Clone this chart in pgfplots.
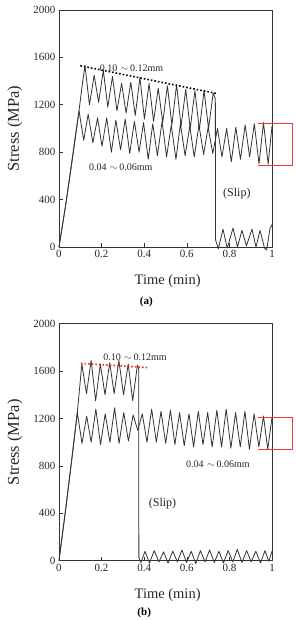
\documentclass[border=0pt]{standalone}
\usepackage{fontspec}
\setmainfont{Liberation Serif}
\usepackage{pgfplots}
\pgfplotsset{compat=1.18}

\definecolor{curvegray}{gray}{0.2}

\pgfplotsset{stressaxis/.style={
  width=213pt, height=237pt, scale only axis,
  xmin=0, xmax=1, ymin=0, ymax=2000,
  xtick={0,0.2,0.4,0.6,0.8,1},
  ytick={0,400,800,1200,1600,2000},
  tick align=inside, tick pos=left,
  major tick length=4pt,
  tick style={black!80, line width=0.6pt},
  /pgf/number format/assume math mode=true,
  /pgf/number format/1000 sep={},
  ticklabel style={font=\fontsize{11}{13}\selectfont, text=black!85},
  xlabel={Time (min)}, ylabel={Stress (MPa)},
  xlabel style={font=\fontsize{14.5}{16}\selectfont, text=black!85,
    at={(axis description cs:0.51,-0.143)}, anchor=center},
  ylabel style={font=\fontsize{16.5}{18}\selectfont, text=black!85,
    at={(axis description cs:-0.207,0.5)}, anchor=center},
  axis line style={black!80, line width=0.7pt},
  clip=false,
}}
\tikzset{
  trace/.style={curvegray, line width=0.8pt, line join=round},
  note/.style={font=\fontsize{10}{12}\selectfont, text=black!85},
}

\begin{document}
\begin{tikzpicture}
\useasboundingbox (-59pt,-373pt) rectangle (236pt,247pt);

% ---------------- (a) ----------------
\begin{axis}[stressaxis, at={(0,0)}]
% 0.10 ~ 0.12 mm: loading, oscillation, then slip
\addplot[trace, no marks] coordinates {
(0,0) (0.03,340) (0.06,720) (0.094,1150) (0.11,1380) (0.122,1530)
(0.143,1200) (0.165,1450) (0.186,1220) (0.208,1490) (0.229,1180)
(0.251,1440) (0.272,1150) (0.294,1380) (0.315,1130) (0.337,1390)
(0.358,1110) (0.380,1430) (0.401,1080) (0.423,1380) (0.444,1060)
(0.466,1340) (0.487,1050) (0.509,1360) (0.530,1030) (0.552,1370)
(0.573,1020) (0.595,1330) (0.616,1000) (0.638,1320) (0.659,990)
(0.681,1320) (0.702,1000) (0.724,1300) (0.734,1250) (0.735,60)
(0.748,-15) (0.770,150) (0.790,-10) (0.817,160) (0.838,0)
(0.859,140) (0.880,10) (0.906,150) (0.925,0) (0.944,140)
(0.965,-10) (0.975,-25) (0.990,150) (1.0,190)
};
% 0.04 ~ 0.06 mm
\addplot[trace, no marks] coordinates {
(0,0) (0.032,360) (0.062,730) (0.094,1150) (0.116,900) (0.137,1120) (0.159,880) (0.181,1090)
(0.202,850) (0.224,1090) (0.246,800) (0.267,1070) (0.289,820)
(0.311,1080) (0.332,790) (0.354,1060) (0.376,800) (0.397,1050)
(0.419,740) (0.440,1040) (0.462,770) (0.484,1060) (0.505,760)
(0.527,1030) (0.549,740) (0.570,1040) (0.592,770) (0.614,1020)
(0.635,760) (0.657,1030) (0.679,780) (0.700,1010) (0.722,790)
(0.744,1000) (0.765,760) (0.787,1000) (0.809,720) (0.830,1010)
(0.852,740) (0.874,1030) (0.895,760) (0.917,1040) (0.939,700)
(0.960,1050) (0.982,700) (1.0,1020)
};
% envelope of the peaks
\addplot[black, line width=1.6pt, dotted, no marks] coordinates {(0.10,1530) (0.74,1295)};
% amplitude bracket
\addplot[red!80, line width=0.7pt, no marks] coordinates {(0.934,1046) (1.094,1046) (1.094,692) (0.934,692)};
\node[note] at (axis cs:0.34,1505) {0.10\,\,$\sim$\,0.12mm};
\node[note] at (axis cs:0.29,675) {0.04\,\,$\sim$\,0.06mm};
\node[note, font=\fontsize{12}{14}\selectfont] at (axis cs:0.835,447) {(Slip)};
\node[font=\bfseries\fontsize{11}{13}\selectfont] at (axis description cs:0.41,-0.232) {(a)};
\end{axis}

% ---------------- (b) ----------------
\begin{axis}[stressaxis, at={(0,-313.7pt)}]
% 0.10 ~ 0.12 mm: loading, oscillation, then slip
\addplot[trace, no marks] coordinates {
(0,0) (0.03,420) (0.06,860) (0.086,1250) (0.10,1520) (0.107,1660)
(0.129,1410) (0.151,1690) (0.172,1350) (0.194,1660) (0.216,1400)
(0.238,1670) (0.259,1410) (0.281,1690) (0.303,1400) (0.325,1660)
(0.346,1350) (0.368,1650) (0.374,1620) (0.375,30)
(0.385,-15) (0.404,80) (0.425,-20) (0.447,85) (0.469,-10)
(0.491,75) (0.512,-20) (0.534,80) (0.556,-10) (0.577,90)
(0.599,-15) (0.621,80) (0.642,-25) (0.664,85) (0.686,-10)
(0.707,90) (0.729,-15) (0.751,80) (0.772,-20) (0.794,85)
(0.816,-10) (0.837,95) (0.859,-15) (0.881,85) (0.902,-10)
(0.924,80) (0.946,-20) (0.967,85) (0.985,-5) (1.0,80)
};
% 0.04 ~ 0.06 mm
\addplot[trace, no marks] coordinates {
(0,0) (0.032,440) (0.062,880) (0.086,1250) (0.108,990) (0.130,1220) (0.151,1000) (0.173,1280)
(0.195,980) (0.217,1240) (0.239,1000) (0.261,1290) (0.282,990)
(0.304,1250) (0.326,1010) (0.348,1230) (0.370,1100) (0.391,1240)
(0.413,1000) (0.435,1280) (0.457,1000) (0.479,1260) (0.501,990)
(0.523,1270) (0.544,980) (0.566,1250) (0.588,970) (0.610,1240)
(0.632,960) (0.654,1260) (0.676,980) (0.698,1250) (0.719,960)
(0.741,1270) (0.763,960) (0.785,1280) (0.807,950) (0.829,1250)
(0.851,960) (0.873,1260) (0.894,940) (0.916,1240) (0.938,960)
(0.960,1220) (0.980,940) (1.0,1210)
};
% envelope of the peaks
\addplot[red!85, line width=1.6pt, dotted, no marks] coordinates {(0.103,1665) (0.415,1630)};
% amplitude bracket
\addplot[red!80, line width=0.7pt, no marks] coordinates {(0.934,1210) (1.094,1210) (1.094,940) (0.934,940)};
\node[note] at (axis cs:0.357,1718) {0.10\,\,$\sim$\,0.12mm};
\node[note] at (axis cs:0.746,812) {0.04\,\,$\sim$\,0.06mm};
\node[note, font=\fontsize{12}{14}\selectfont] at (axis cs:0.486,479) {(Slip)};
\node[font=\bfseries\fontsize{11}{13}\selectfont] at (axis description cs:0.40,-0.22) {(b)};
\end{axis}
\end{tikzpicture}
\end{document}
